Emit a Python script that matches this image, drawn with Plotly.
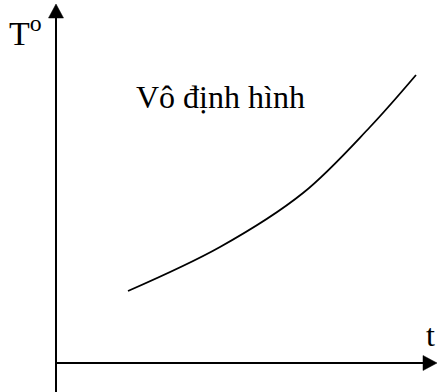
import plotly.graph_objects as go

# Data (t, T) measured from the axis origin
t_values = [72, 164, 247, 314, 360]
T_values = [72, 116, 170, 236, 288]

y_label = "T<sup>o</sup>"
x_label = "t"
curve_label = "Vô định hình"

W, H = 438, 392
ox, oy = 56, 363  # pixel position of origin

fig = go.Figure()
fig.add_trace(go.Scatter(x=t_values, y=T_values, mode="lines",
                         line=dict(color="black", width=1.8, shape="spline", smoothing=1.0),
                         hoverinfo="skip", showlegend=False))

xr = [-ox, W - ox]
yr = [-(H - oy), oy]

shapes = [
    # y axis
    dict(type="line", xref="x", yref="y", x0=0, x1=0, y0=yr[0], y1=oy - 16,
         line=dict(color="black", width=2)),
    dict(type="path", xref="x", yref="y",
         path=f"M -7.5 {oy-18} L 7.5 {oy-18} L 0 {oy-4} Z",
         fillcolor="black", line=dict(color="black", width=0.5)),
    # x axis
    dict(type="line", xref="x", yref="y", x0=0, x1=W - ox - 14, y0=0, y1=0,
         line=dict(color="black", width=2)),
    dict(type="path", xref="x", yref="y",
         path=f"M {W-ox-15} 7.5 L {W-ox-15} -7.5 L {W-ox-1} 0 Z",
         fillcolor="black", line=dict(color="black", width=0.5)),
]

font = dict(family="Liberation Serif, Times New Roman, serif", color="black", size=32)
annotations = [
    dict(text=y_label, xref="paper", yref="paper", x=7 / W, y=1 - 8 / H,
         xanchor="left", yanchor="top", showarrow=False,
         font=dict(family=font["family"], color="black", size=34)),
    dict(text=x_label, xref="paper", yref="paper", x=424 / W, y=1 - 315 / H,
         xanchor="left", yanchor="top", showarrow=False, font=font),
    dict(text=curve_label, xref="paper", yref="paper", x=134 / W, y=1 - 77 / H,
         xanchor="left", yanchor="top", showarrow=False, font=font),
]

fig.update_layout(
    width=W, height=H, margin=dict(l=0, r=0, t=0, b=0),
    paper_bgcolor="white", plot_bgcolor="white",
    xaxis=dict(range=xr, visible=False, fixedrange=True),
    yaxis=dict(range=yr, visible=False, fixedrange=True),
    shapes=shapes, annotations=annotations,
)
fig.write_html("out.html", config={"displayModeBar": False},
               post_script="document.body.style.margin='0';document.body.style.overflow='hidden';")
